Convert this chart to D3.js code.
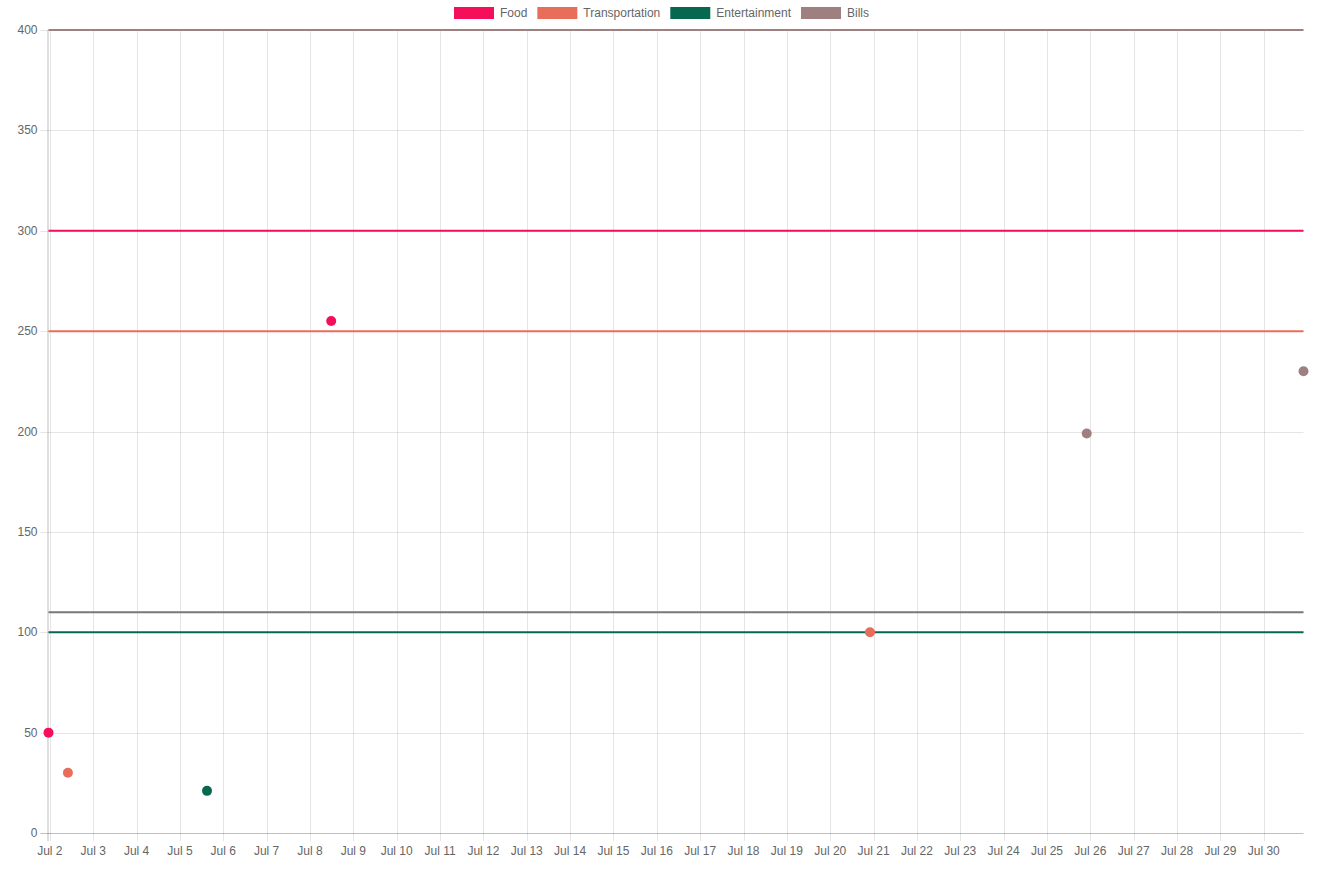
<!DOCTYPE html>
<html>
<head>
<meta charset="utf-8">
<script src="https://cdn.jsdelivr.net/npm/d3@7"></script>
<style>
html,body{margin:0;padding:0;background:#fff;}
svg{display:block;font-family:"Liberation Sans",Arial,Helvetica,sans-serif;}
</style>
</head>
<body>
<svg id="chart" width="1327" height="882"></svg>
<script>
// ---- data ----
const categories = ["Food", "Transportation", "Entertainment", "Bills"];
const colors = ["#f50f5a", "#e86e5b", "#06694f", "#9f8080"];
// spending points per category: [date, amount]
const foodPoints = [["2023-07-01T23:15", 50], ["2023-07-08T11:45", 255]];
const transportationPoints = [["2023-07-02T10:00", 30], ["2023-07-20T22:00", 100]];
const entertainmentPoints = [["2023-07-05T15:00", 21]];
const billsPoints = [["2023-07-25T22:00", 199], ["2023-07-30T22:00", 230]];
// budget lines per category
const budgets = [300, 250, 100, 400];
// extra grey reference line
const referenceValue = 110;
const referenceColor = "#777777";
const yTicks = [0, 50, 100, 150, 200, 250, 300, 350, 400];
const xTickStart = "2023-07-02", xTickEnd = "2023-07-30";

const parse = d3.timeParse("%Y-%m-%dT%H:%M");
const parseDay = d3.timeParse("%Y-%m-%d");
const series = [foodPoints, transportationPoints, entertainmentPoints, billsPoints]
  .map((pts, i) => ({name: categories[i], color: colors[i], budget: budgets[i],
    points: pts.map(p => ({date: parse(p[0]), value: p[1]}))}));

const allDates = series.flatMap(s => s.points.map(p => p.date));

// ---- layout ----
const svg = d3.select("#chart");
const L = 48.5, R = 1303.5, T = 30, B = 833;
const x = d3.scaleTime().domain(d3.extent(allDates)).range([L, R]);
const y = d3.scaleLinear().domain([0, 400]).range([B, T]);
const gridColor = "rgba(0,0,0,0.1)";
const textColor = "#666";

// vertical grid + x ticks
const xTicks = d3.timeDay.range(parseDay(xTickStart), d3.timeDay.offset(parseDay(xTickEnd), 1));
const fmt = d3.timeFormat("%b %-d");
const gx = svg.append("g");
gx.selectAll("line").data(xTicks).join("line")
  .attr("x1", d => Math.round(x(d)) + 0.5).attr("x2", d => Math.round(x(d)) + 0.5)
  .attr("y1", T).attr("y2", B + 8)
  .attr("stroke", gridColor).attr("stroke-width", 1);
gx.selectAll("text").data(xTicks).join("text")
  .attr("x", d => x(d)).attr("y", B + 22)
  .attr("text-anchor", "middle").attr("font-size", 12).attr("fill", textColor)
  .text(fmt);

// horizontal grid + y ticks
const gy = svg.append("g");
gy.selectAll("line").data(yTicks).join("line")
  .attr("x1", L - 8).attr("x2", R)
  .attr("y1", d => Math.round(y(d)) + 0.5).attr("y2", d => Math.round(y(d)) + 0.5)
  .attr("stroke", d => d === 0 ? "rgba(0,0,0,0.25)" : gridColor).attr("stroke-width", 1);
gy.selectAll("text").data(yTicks).join("text")
  .attr("x", L - 11).attr("y", d => y(d) + 4)
  .attr("text-anchor", "end").attr("font-size", 12).attr("fill", textColor)
  .text(d => d);

// left border
svg.append("line").attr("x1", L - 0.5).attr("x2", L - 0.5).attr("y1", T).attr("y2", B + 8)
  .attr("stroke", "rgba(0,0,0,0.25)").attr("stroke-width", 1);

// budget lines
const [d0, d1] = x.domain();
const lineGen = d3.line().x(d => x(d.date)).y(d => y(d.value));
svg.append("path")
  .attr("d", lineGen([{date: d0, value: referenceValue}, {date: d1, value: referenceValue}]))
  .attr("stroke", referenceColor).attr("stroke-width", 2).attr("fill", "none");
series.slice().reverse().forEach(s => {
  svg.append("path")
    .attr("d", lineGen([{date: d0, value: s.budget}, {date: d1, value: s.budget}]))
    .attr("stroke", s.color).attr("stroke-width", 2).attr("fill", "none");
});

// points
series.slice().reverse().forEach(s => {
  svg.append("g").selectAll("circle").data(s.points).join("circle")
    .attr("cx", d => x(d.date)).attr("cy", d => y(d.value)).attr("r", 5)
    .attr("fill", s.color);
});

// legend
const lg = svg.append("g");
const items = lg.selectAll("g").data(series).join("g");
items.append("rect").attr("width", 40).attr("height", 12).attr("y", 7).attr("fill", d => d.color);
items.append("text").attr("x", 46).attr("y", 17).attr("font-size", 12).attr("fill", textColor).text(d => d.name);
const widths = [];
items.each(function(d) {
  widths.push(46 + this.querySelector("text").getComputedTextLength());
});
const total = d3.sum(widths) + 10 * (widths.length - 1);
let start = 661.5 - total / 2;
items.attr("transform", (d, i) => {
  const tx = start; start += widths[i] + 10;
  return `translate(${tx},0)`;
});
</script>
</body>
</html>
